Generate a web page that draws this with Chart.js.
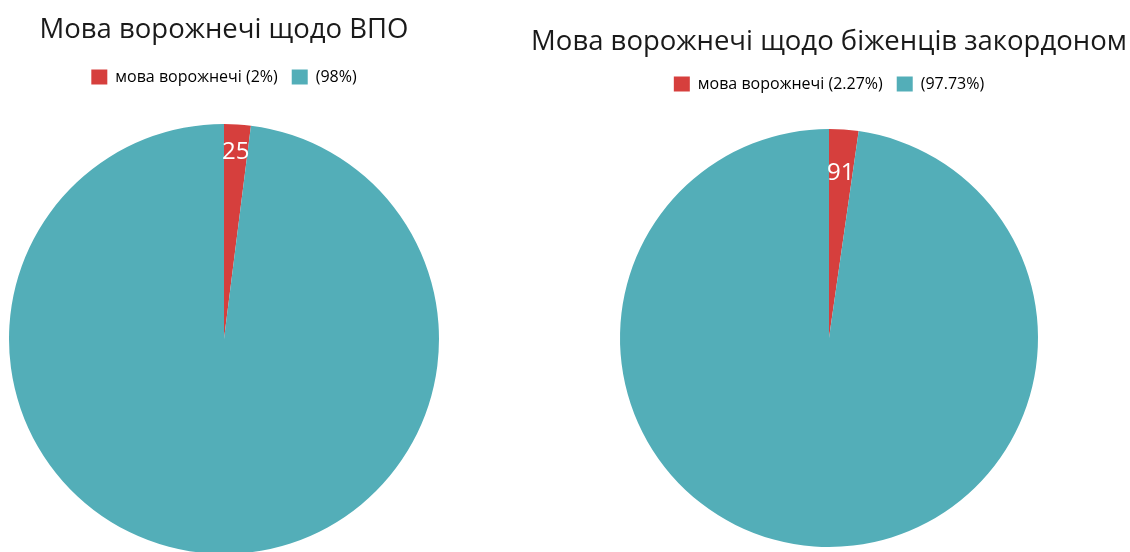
<!DOCTYPE html>
<html>
<head>
<meta charset="utf-8">
<script src="https://cdn.jsdelivr.net/npm/chart.js@4.4.1/dist/chart.umd.min.js"></script>
<style>
  html, body { margin: 0; padding: 0; background: #fff; overflow: hidden; }
  body { width: 1130px; height: 552px; position: relative; }
  .box { position: absolute; top: 0; }
  #left { left: 0; width: 448px; height: 583px; }
  #right { left: 529px; width: 600px; height: 574px; }
</style>
</head>
<body>
<div class="box" id="left"><canvas id="chartIdp"></canvas></div>
<div class="box" id="right"><canvas id="chartAbroad"></canvas></div>
<script>
// Categories and counts for both pies
const categories = ["мова ворожнечі", ""];
const idpValues = [25, 1225];
const abroadValues = [91, 3918];
const sliceColors = ["#d63f3d", "#53aeb8"];

Chart.defaults.font.family = "'Open Sans', sans-serif";

function percentOf(values, i) {
    let total = values.reduce((a, b) => a + b, 0);
    return parseFloat((values[i] / total * 100).toFixed(2));
}

// Draws the count of each slice in white inside the slice
const sliceValueLabels = {
    id: "sliceValueLabels",
    afterDatasetsDraw(chart, args, opts) {
        const ctx = chart.ctx;
        const meta = chart.getDatasetMeta(0);
        const data = chart.data.datasets[0].data;
        ctx.save();
        ctx.fillStyle = "#fff";
        ctx.font = opts.size + "px 'Open Sans', sans-serif";
        ctx.textAlign = "center";
        ctx.textBaseline = "middle";
        meta.data.forEach((arc, i) => {
            if (!opts.show[i]) return;
            let mid = (arc.startAngle + arc.endAngle) / 2;
            let dist = arc.outerRadius * opts.ratio;
            ctx.fillText(data[i], arc.x + Math.cos(mid) * dist, arc.y + Math.sin(mid) * dist);
        });
        ctx.restore();
    }
};

function makePie(canvasId, title, values, opts) {
    return new Chart(document.getElementById(canvasId), {
        type: "pie",
        data: {
            labels: categories,
            datasets: [{
                data: values,
                backgroundColor: sliceColors,
                borderWidth: 0,
                radius: opts.radius
            }]
        },
        plugins: [sliceValueLabels],
        options: {
            responsive: true,
            maintainAspectRatio: false,
            animation: false,
            layout: { padding: 0 },
            plugins: {
                title: {
                    display: true,
                    text: title,
                    color: "#1a1a1a",
                    font: { size: 27.5, weight: "normal" },
                    padding: opts.titlePadding
                },
                legend: {
                    position: "top",
                    labels: {
                        color: "#3a3a3a",
                        boxWidth: 16,
                        boxHeight: 15,
                        font: { size: 16 },
                        padding: 14,
                        generateLabels(chart) {
                            return chart.data.labels.map((label, i) => ({
                                text: (label + " (" + percentOf(values, i) + "%)").trim(),
                                fillStyle: sliceColors[i],
                                strokeStyle: sliceColors[i],
                                lineWidth: 0,
                                hidden: false,
                                index: i
                            }));
                        }
                    }
                },
                tooltip: { enabled: false },
                sliceValueLabels: { size: 24, ratio: opts.labelRatio, show: [true, false] }
            }
        }
    });
}

makePie("chartIdp", "Мова ворожнечі щодо ВПО", idpValues, {
    radius: 215,
    titlePadding: { top: 14, bottom: 8 },
    labelRatio: 0.87
});

makePie("chartAbroad", "Мова ворожнечі щодо біженців закордоном", abroadValues, {
    radius: 209,
    titlePadding: { top: 26, bottom: 3 },
    labelRatio: 0.79
});
</script>
</body>
</html>
